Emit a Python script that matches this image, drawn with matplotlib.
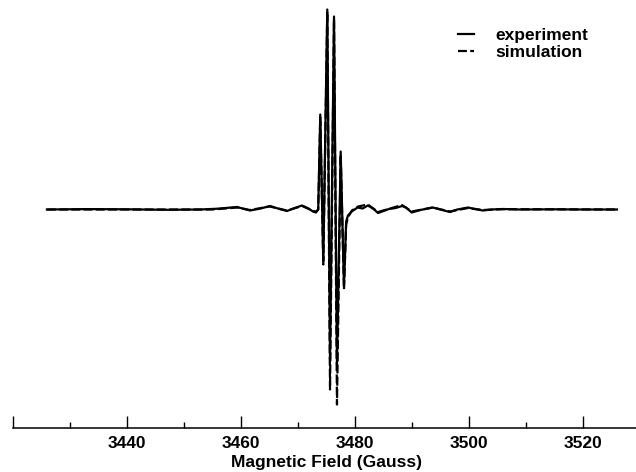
import matplotlib
matplotlib.use("Agg")
import matplotlib.pyplot as plt
from matplotlib.ticker import MultipleLocator, FixedLocator

plt.rcParams['font.family'] = ['Liberation Sans', 'DejaVu Sans']

# EPR spectrum (field in Gauss, intensity arbitrary units)
exp_field = [3426.0, 3433.0, 3440.0, 3447.0, 3452.9, 3456.0, 3459.35, 3461.63, 3463.5,
             3465.14, 3466.8, 3468.12, 3469.5, 3470.75, 3471.9, 3472.68, 3473.21, 3473.6,
             3473.96, 3474.49, 3475.19, 3475.67, 3476.37, 3476.89, 3477.54, 3478.12,
             3478.5, 3478.82, 3479.47, 3480.5, 3481.4, 3482.3, 3483.2, 3484.1, 3486.0,
             3487.2, 3488.3, 3489.0, 3490.0, 3491.5, 3493.7, 3495.0, 3496.7, 3498.0,
             3499.9, 3501.0, 3502.5, 3504.0, 3506.0, 3509.0, 3515.0, 3520.0, 3526.0]
exp_signal = [0, 0.4, 0.2, -0.3, 0, 0.8, 2.5, -1, 1,
              3.5, 0.5, -1.5, 1.5, 4, 1, -2, -3, 0,
              95, -52, 200, -150, 193, -155, 58, -77,
              -12, -6, -2, 2, 1, 4, 1, -3.5, 0.5,
              1.5, 3.5, 2, -3, -0.5, 2, 0, -2.5, 0,
              2, 0.5, -1, 0, 0.5, 0, 0.2, 0, 0]

sim_field = [3426.0, 3455.0, 3459.4, 3461.6, 3465.1, 3468.1, 3470.8, 3472.7, 3473.21,
             3473.6, 3473.96, 3474.49, 3475.19, 3475.67, 3476.37, 3476.89, 3477.54,
             3478.12, 3478.5, 3478.82, 3479.5, 3480.6, 3482.3, 3484.1, 3486.2, 3488.3,
             3490.0, 3493.7, 3496.7, 3499.9, 3502.5, 3506.0, 3526.0]
sim_signal = [0, 0, 2, -0.5, 3, -1, 3.5, -1.5, -2,
              0, 92, -55, 198, -180, 190, -195, 55,
              -80, -15, -8, -1, 3, 5, -2.5, 1, 4.5,
              -2, 2, -2, 1.5, -0.5, 0.3, 0]

W, H = 636, 472
fig = plt.figure(figsize=(W / 100, H / 100), dpi=100)
ax = fig.add_axes([12.7 / W, 44 / H, 627 / W, 428 / H])

ax.plot(exp_field, exp_signal, color='black', lw=1.6, label='experiment')
ax.plot(sim_field, sim_signal, color='black', lw=1.6, linestyle=(0, (4, 1.5)),
        label='simulation')

ax.set_xlim(3420, 3530)
ax.set_ylim(-218.5, 209.5)

for s in ['left', 'top', 'right']:
    ax.spines[s].set_visible(False)
ax.spines['bottom'].set_linewidth(1.1)
ax.set_yticks([])

ax.xaxis.set_major_locator(FixedLocator([3420, 3440, 3460, 3480, 3500, 3520]))
ax.set_xticklabels(['', '3440', '3460', '3480', '3500', '3520'],
                   fontsize=12.5, fontweight='bold')
ax.xaxis.set_minor_locator(MultipleLocator(10))
ax.tick_params(axis='x', which='major', direction='in', length=8.6, width=1.0, pad=6)
ax.tick_params(axis='x', which='minor', direction='in', length=4.3, width=1.0)
ax.set_xlabel('Magnetic Field (Gauss)', fontsize=12.5, fontweight='bold', labelpad=3)

ax.legend(loc='upper left', bbox_to_anchor=(458 / W, 1 - 28 / H),
          bbox_transform=fig.transFigure, frameon=False, borderpad=0,
          borderaxespad=0, handlelength=0.9, handletextpad=1.25,
          labelspacing=0.1, prop={'weight': 'bold', 'size': 12.5})

fig.savefig('out.png', dpi=100)
